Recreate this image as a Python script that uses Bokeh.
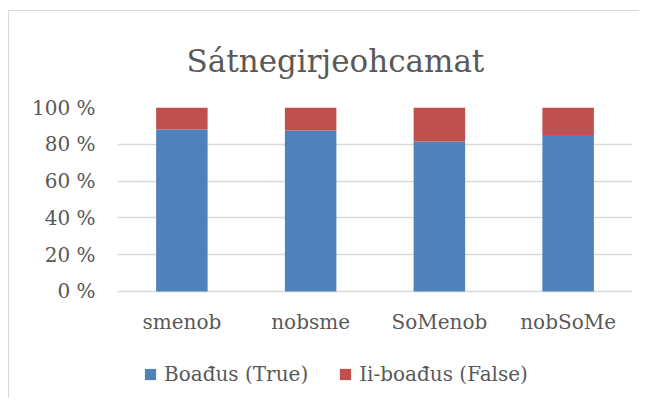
from bokeh.plotting import figure
from bokeh.models import FactorRange, Range1d, FixedTicker, PrintfTickFormatter, Legend, LegendItem, ColumnDataSource
from bokeh.core.properties import value
from bokeh.embed import file_html
from bokeh.resources import INLINE

title_text = "Sátnegirjeohcamat"
categories = ["smenob", "nobsme", "SoMenob", "nobSoMe"]
true_pct = [88.0, 87.5, 81.5, 85.0]
false_pct = [12.0, 12.5, 18.5, 15.0]
series_names = ["Boađus (True)", "Ii-boađus (False)"]
y_ticks = [0, 20, 40, 60, 80, 100]

FONT = "DejaVu Serif"
TXT = "#595959"
GRID = "#d9d9d9"
BLUE = "#4f81bd"
RED = "#c0504d"

src = ColumnDataSource(dict(cat=categories, t=true_pct, f=false_pct,
                            base=[0] * len(categories)))

# frame extends below the 0 % line so the category labels and legend sit inside it
p = figure(
    width=631, height=388,
    x_range=FactorRange(*categories, range_padding=0),
    y_range=Range1d(-58.7, 100),
    output_backend="svg", toolbar_location=None,
    min_border_left=108, min_border_right=8, min_border_top=96, min_border_bottom=0,
    styles={"border-left": "1px solid #d9d9d9", "border-top": "1px solid #d9d9d9",
            "margin-top": "10px", "margin-left": "8px"},
)
p.outline_line_color = None
p.background_fill_color = "white"
p.border_fill_color = "white"

r = p.vbar_stack(["t", "f"], x="cat", width=0.4, source=src, color=[BLUE, RED], line_color=None)

# category labels under the 0 % line
p.text(x="cat", y="base", text="cat", source=src, y_offset=19,
       text_align="center", text_baseline="top",
       text_font=value(FONT), text_font_size="20px", text_color=TXT)

p.title.text = title_text
p.title.text_font = FONT
p.title.text_font_size = "31px"
p.title.text_font_style = "normal"
p.title.text_color = TXT
p.title.align = "left"
p.title.offset = 69
p.title.standoff = 58

p.xaxis.visible = False
p.xgrid.grid_line_color = None
p.ygrid.grid_line_color = GRID
p.ygrid.grid_line_width = 1.5
p.yaxis.ticker = FixedTicker(ticks=y_ticks)
p.yaxis.formatter = PrintfTickFormatter(format="%d %%")

ax = p.yaxis[0]
ax.axis_line_color = None
ax.major_tick_line_color = None
ax.minor_tick_line_color = None
ax.major_tick_out = 0
ax.major_tick_in = 0
ax.minor_tick_out = 0
ax.major_label_text_font = FONT
ax.major_label_text_font_size = "20px"
ax.major_label_text_color = TXT
ax.major_label_standoff = 22

legend = Legend(
    items=[LegendItem(label=series_names[0], renderers=[r[0]]),
           LegendItem(label=series_names[1], renderers=[r[1]])],
    location=(26, 13), orientation="horizontal",
    padding=0, margin=0, spacing=30, label_standoff=7,
    glyph_width=14, glyph_height=14,
    border_line_color=None, background_fill_alpha=0,
    label_text_font=FONT, label_text_font_size="20px", label_text_color=TXT,
)
p.add_layout(legend, "center")

open("out.html", "w").write(file_html(p, INLINE))
